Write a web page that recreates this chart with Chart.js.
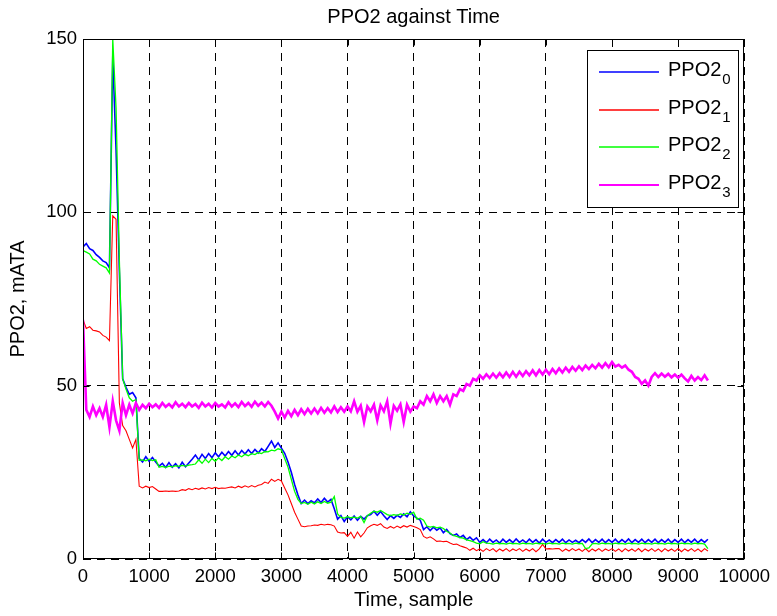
<!DOCTYPE html>
<html>
<head>
<meta charset="utf-8">
<script src="https://cdn.jsdelivr.net/npm/chart.js@4/dist/chart.umd.min.js"></script>
<style>
  html, body { margin: 0; padding: 0; background: #fff; }
  #ppoChart { display: block; }
</style>
</head>
<body>
<canvas id="ppoChart" width="777" height="616"></canvas>
<script>
// PPO2 sensor readings, one value every 50 samples

const sampleStep = 50
const samples = Array.from({ length: 190 }, (_, i) => i * sampleStep)

const xTicks = [0, 1000, 2000, 3000, 4000, 5000, 6000, 7000, 8000, 9000, 10000]
const yTicks = [0, 50, 100, 150]

const seriesNames = ['0', '1', '2', '3']

const ppo2_0 = [
  90, 91, 89.5, 89, 87.8, 87, 86, 85.5, 84, 145, 118, 83, 52, 49.5, 47.5, 48, 46.5, 29, 28, 29.5,
  28.2, 29.3, 28, 26.8, 27.6, 26.4, 27.8, 26.5, 27.5, 26.3, 27.9, 26.6, 27.7, 28.8, 30, 28.6, 30.2, 29, 30.4, 29.2,
  30.6, 29.5, 30.8, 29.7, 31, 29.9, 31.2, 30, 31.3, 30.3, 31.5, 30.4, 31.6, 30.6, 31.8, 31, 32.5, 34, 32.2, 33.5,
  32, 30.5, 28, 25, 21.5, 18.5, 16, 17, 16, 16.8, 16.2, 17.3, 16.3, 17.5, 16.4, 17.2, 14.5, 11.5, 12.5, 10.8,
  12.2, 11.3, 12.4, 11.2, 12.3, 11.5, 12.5, 12.8, 13.8, 12.6, 13.7, 12.5, 11.4, 12.5, 11.7, 12.6, 12, 13, 12.2, 13.6,
  12.4, 11.8, 11.2, 8.5, 9.3, 8.2, 9.2, 8.3, 9, 7.6, 8.5, 7.3, 6.8, 7.2, 6.2, 6.8, 5.6, 6.3, 5.4, 6.1,
  4.8, 5.6, 4.7, 5.7, 4.8, 5.5, 4.6, 5.7, 4.8, 5.6, 4.7, 5.8, 4.8, 5.5, 4.7, 5.7, 4.8, 5.6, 4.6, 5.7,
  4.8, 5.5, 4.7, 5.6, 4.8, 5.7, 4.7, 5.5, 4.8, 5.4, 4.7, 5.6, 4.8, 5.8, 4.7, 5.6, 4.8, 5.7, 4.7, 5.6,
  4.8, 5.7, 4.7, 5.6, 4.8, 5.8, 4.7, 5.6, 4.8, 5.7, 4.7, 5.6, 4.8, 5.7, 4.7, 5.6, 4.8, 5.7, 4.7, 5.6,
  4.8, 5.7, 4.7, 5.6, 4.8, 5.7, 4.7, 5.6, 4.8, 5.7
]

const ppo2_1 = [
  69, 66.5, 67, 66, 65.8, 65.5, 64.5, 64, 63, 99, 98, 45, 38.5, 37, 34.5, 32, 34.5, 21, 20.5, 21,
  20.6, 20.9, 20.2, 19.5, 19.5, 19.6, 19.5, 19.6, 19.5, 19.6, 20, 19.8, 20.3, 20, 20.4, 20.1, 20.5, 20.2, 20.6, 20.3,
  20.7, 20.3, 20.5, 20.4, 20.6, 20.8, 20.5, 21, 20.6, 21.1, 20.7, 21.2, 20.8, 21.3, 21.5, 22.2, 21.8, 23, 22.4, 23,
  22.5, 20.5, 18.5, 16, 13.5, 11.5, 9.5, 9.3, 9.5, 9.6, 9.8, 9.7, 10, 9.8, 10, 9.9, 9.5, 7.8, 7.5, 7.6,
  6.5, 7.7, 6, 7.8, 6.4, 7.5, 9, 9.6, 10, 9.7, 10.2, 9.2, 8.8, 9.4, 8.9, 9.5, 9, 9.6, 9.2, 9.7,
  9.4, 9, 8.5, 6.5, 6, 6.4, 5.8, 5.1, 5.2, 5, 5.1, 4.6, 4.2, 4.3, 3.8, 3.5, 3.2, 2.5, 3.1, 2.4,
  2.9, 2.2, 3, 2.4, 3, 2.1, 2.9, 2.3, 3, 2.2, 2.9, 2.4, 3, 2.2, 2.9, 2.3, 3, 2.1, 2.9, 4.2,
  2.9, 3, 2.9, 3, 3, 2.2, 2.9, 2.3, 3, 2.4, 2.9, 2.2, 3, 2.1, 2.9, 2.3, 3, 2.2, 2.9, 2.4,
  3, 2.2, 2.9, 2.1, 3, 2.3, 2.9, 2.2, 3, 2.1, 2.9, 2.3, 3, 2.2, 2.9, 2.1, 3, 2.3, 2.9, 2.2,
  3, 2.1, 2.9, 2.3, 3, 2.2, 2.9, 2.1, 3, 2.3
]

const ppo2_2 = [
  89, 88.5, 88, 86.5, 86, 85, 84.5, 84, 82.5, 150, 130, 86, 52, 49, 46.5, 45.5, 46, 28.5, 28.6, 28.3,
  28.8, 28.4, 28.6, 26.5, 26.7, 26.4, 26.8, 26.6, 26.9, 26.7, 27, 26.8, 27.1, 27.2, 27.4, 28.6, 27.6, 28.8, 27.8, 29,
  28.2, 29.2, 28.4, 29.5, 28.8, 29.7, 29.2, 30, 29.5, 30.2, 29.8, 30.4, 30.1, 30.7, 30.4, 31, 30.9, 31.4, 31.2, 31.8,
  31.5, 29, 26.5, 23, 19.5, 17.2, 16, 16.3, 15.8, 16.4, 15.9, 16.5, 16, 16.6, 16.1, 16.4, 18, 13, 12, 11.8,
  12.2, 11.9, 12.1, 11.8, 12.3, 10.5, 12.5, 13.2, 13.8, 13.5, 14, 13.4, 12.8, 12.5, 12.8, 12.6, 13, 12.7, 13.2, 12.9,
  13.5, 11.5, 11.8, 11.2, 9.5, 9.2, 9.4, 9, 9.2, 8.8, 8, 7.5, 6.8, 6.5, 6.2, 6, 5.5, 5.3, 5, 4.6,
  4.4, 5, 4.6, 4.5, 4.3, 4.6, 4.4, 4.5, 4.3, 4.6, 4.4, 4.5, 4.3, 4.6, 4.4, 4.5, 4.3, 4.6, 4.4, 4.5,
  4.3, 4.6, 4.4, 4.5, 4.3, 4.6, 4.4, 4.5, 4.3, 4.6, 4.4, 4.5, 3, 3.2, 4.4, 4.5, 4.3, 4.6, 4.4, 4.5,
  4.3, 4.6, 4.4, 4.5, 4.3, 4.6, 4.4, 4.5, 4.3, 4.6, 4.4, 4.5, 4.3, 4.6, 4.4, 4.5, 4.3, 4.6, 4.4, 4.5,
  4.3, 4.6, 4.4, 4.5, 4.3, 4.6, 4.4, 4.5, 4.3, 3
]

const ppo2_3 = [
  69, 43, 41, 44, 41.5, 43.5, 41, 44.5, 38, 45.5, 40, 37, 45, 41.5, 44.5, 42, 45, 43, 44.5, 43.5,
  44.8, 43.8, 44.6, 43.6, 45, 43.9, 44.7, 43.7, 45.2, 44, 44.8, 43.8, 45, 44, 44.7, 43.6, 45.1, 44, 44.8, 43.7,
  45, 44, 44.6, 43.7, 45.2, 44, 44.9, 43.8, 45.3, 44.1, 45, 43.9, 45.4, 44.2, 45.1, 44, 45.3, 44.2, 42.5, 40.5,
  42.5, 40.8, 42.7, 41.2, 43, 41.5, 43.2, 41.8, 43.3, 42, 43.4, 42, 43.6, 42.2, 43.5, 42.3, 44, 42.4, 43.8, 42.5,
  44, 42.6, 45.5, 42.5, 44.2, 39.5, 44, 42.6, 44.5, 40, 44.3, 42.6, 45.5, 39, 44.2, 42.8, 44.6, 39.5, 44.5, 42.5,
  44, 43.5, 45.5, 44.5, 47, 45.5, 47.5, 45, 47, 45.5, 47, 44.5, 47.5, 47, 49, 48.5, 50.5, 50, 52, 51.5,
  53, 52, 53.3, 52.2, 53.5, 52.3, 53.6, 52.4, 53.8, 52.5, 54, 52.6, 54, 52.8, 54.2, 53, 54.4, 53, 54.5, 53.2,
  54.6, 53.3, 54.8, 53.6, 55, 53.8, 55.2, 54, 55.4, 54.3, 55.6, 54.5, 55.8, 54.8, 56, 55, 56.3, 55.2, 56.5, 55.3,
  56.8, 55.5, 56, 55.2, 55.8, 54.6, 54, 52.5, 52, 50.5, 51.5, 50, 52.5, 53.6, 52.5, 53.5, 52.6, 53.4, 52.4, 53.2,
  52.3, 53.2, 52.1, 51.2, 52.8, 51.5, 52.5, 51.6, 53, 51.5
]

const lineColors = ['#0000ff', '#ff0000', '#00ff00', '#ff00ff']

const toPoints = vals => vals.map((v, i) => ({ x: samples[i], y: v }))

// MATLAB-style box, inward ticks and legend with subscripts
const matlabFrame = {
  id: 'matlabFrame',
  afterDraw(chart) {
    const c = chart.ctx
    const a = chart.chartArea
    const xs = chart.scales.x
    const ys = chart.scales.y
    c.save()
    c.strokeStyle = '#000'
    c.lineWidth = 1
    c.setLineDash([])
    const L = Math.round(a.left) + 0.5, R = Math.round(a.right) - 0.5
    const T = Math.round(a.top) + 0.5, B = Math.round(a.bottom) - 0.5
    c.strokeRect(L, T, R - L, B - T)
    c.beginPath()
    xTicks.forEach(t => {
      const px = Math.round(xs.getPixelForValue(t)) + 0.5
      c.moveTo(px, B); c.lineTo(px, B - 6)
      c.moveTo(px, T); c.lineTo(px, T + 6)
    })
    yTicks.forEach(t => {
      const py = Math.round(ys.getPixelForValue(t)) + 0.5
      c.moveTo(L, py); c.lineTo(L + 6, py)
      c.moveTo(R, py); c.lineTo(R - 6, py)
    })
    c.stroke()

    // legend
    const bx = 587, by = 50, bw = 151, bh = 157
    c.fillStyle = '#fff'
    c.fillRect(bx, by, bw, bh)
    c.strokeStyle = '#000'
    c.strokeRect(bx + 0.5, by + 0.5, bw, bh)
    seriesNames.forEach((sub, i) => {
      const y = Math.round(72 + i * 37.5)
      c.strokeStyle = lineColors[i]
      c.lineWidth = i === 3 ? 2 : 1.5
      c.beginPath()
      c.moveTo(599, y); c.lineTo(659, y)
      c.stroke()
      c.fillStyle = '#000'
      c.textBaseline = 'alphabetic'
      c.textAlign = 'left'
      c.font = '20px "Liberation Sans", Arial, sans-serif'
      c.fillText('PPO2', 668, y + 4)
      const w = c.measureText('PPO2').width
      c.font = '15px "Liberation Sans", Arial, sans-serif'
      c.fillText(sub, 668 + w + 1, y + 12)
    })
    c.restore()
  }
}

Chart.defaults.font.family = '"Liberation Sans", Arial, sans-serif'
Chart.defaults.color = '#000'

const ppoChart = document.getElementById('ppoChart')

new Chart(ppoChart, {
  type: 'line',
  data: {
    datasets: [
      { label: 'PPO2_0', data: toPoints(ppo2_0), borderColor: lineColors[0], borderWidth: 1.6, order: 3 },
      { label: 'PPO2_1', data: toPoints(ppo2_1), borderColor: lineColors[1], borderWidth: 1.1, order: 2 },
      { label: 'PPO2_2', data: toPoints(ppo2_2), borderColor: lineColors[2], borderWidth: 1.3, order: 1 },
      { label: 'PPO2_3', data: toPoints(ppo2_3), borderColor: lineColors[3], borderWidth: 2.6, order: 0 }
    ]
  },
  options: {
    responsive: false,
    animation: false,
    devicePixelRatio: 1,
    layout: { padding: { left: 0, right: 30, top: 0, bottom: 0 } },
    elements: {
      point: { radius: 0 },
      line: { borderWidth: 1, tension: 0 }
    },
    plugins: {
      legend: { display: false },
      tooltip: { enabled: false },
      title: {
        display: true,
        fullSize: false,
        text: 'PPO2 against Time',
        font: { size: 20, weight: 'normal' },
        color: '#000',
        padding: { top: 5, bottom: 10 }
      }
    },
    scales: {
      x: {
        type: 'linear',
        min: 0,
        max: 10000,
        afterBuildTicks: s => { s.ticks = xTicks.map(v => ({ value: v })) },
        ticks: { font: { size: 18.5 }, color: '#000', padding: 7, maxRotation: 0, autoSkip: false, callback: v => String(v) },
        grid: { color: '#000', lineWidth: 1, drawTicks: false },
        border: { display: false, dash: [8, 6] },
        title: { display: true, text: 'Time, sample', font: { size: 20 }, color: '#000', padding: { top: 0, bottom: 4 } },
        afterFit: s => { s.height = 57 }
      },
      y: {
        min: 0,
        max: 150,
        afterBuildTicks: s => { s.ticks = yTicks.map(v => ({ value: v })) },
        ticks: { font: { size: 18.5 }, color: '#000', padding: 6, callback: v => String(v) },
        grid: { color: '#000', lineWidth: 1, drawTicks: false },
        border: { display: false, dash: [8, 6] },
        title: { display: true, text: 'PPO2, mATA', font: { size: 20 }, color: '#000', padding: { top: 6, bottom: 0 } },
        afterFit: s => { s.width = 83 }
      }
    }
  },
  plugins: [matlabFrame]
})
</script>
</body>
</html>
